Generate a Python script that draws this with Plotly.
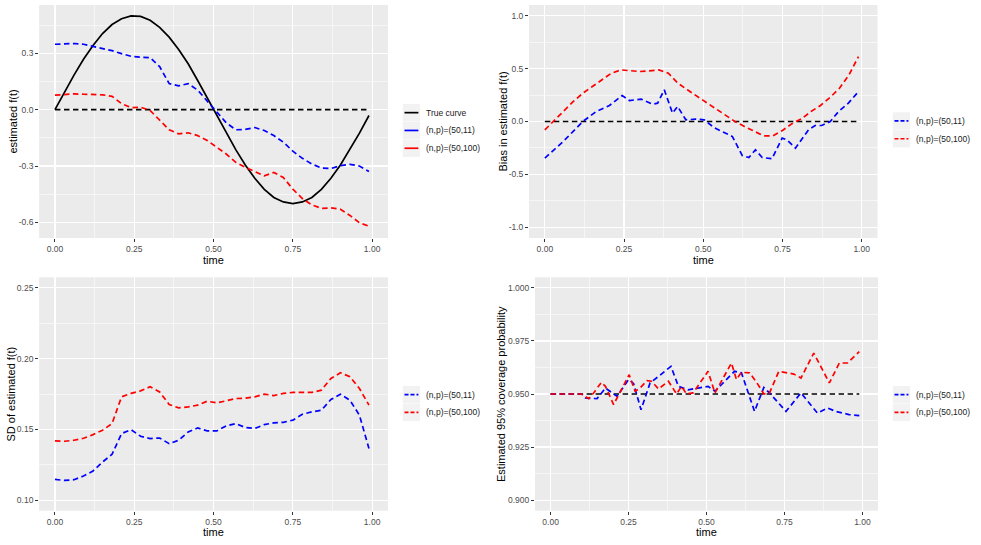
import plotly.graph_objects as go

# ---------------- data ----------------
time = [0.00, 0.03, 0.06, 0.09, 0.12, 0.15, 0.18, 0.21, 0.24, 0.27, 0.30, 0.33,
        0.36, 0.39, 0.42, 0.45, 0.48, 0.51, 0.54, 0.57, 0.60, 0.63, 0.66, 0.69,
        0.72, 0.75, 0.78, 0.81, 0.84, 0.87, 0.90, 0.93, 0.96, 0.99]

true_curve = [0.000, 0.094, 0.184, 0.268, 0.342, 0.405, 0.453, 0.484, 0.499, 0.496,
              0.476, 0.438, 0.386, 0.320, 0.244, 0.155, 0.063, -0.031, -0.125, -0.213,
              -0.294, -0.365, -0.424, -0.467, -0.491, -0.500, -0.491, -0.467, -0.424,
              -0.365, -0.294, -0.213, -0.125, -0.031]

est_50_11 = [0.348, 0.352, 0.352, 0.348, 0.338, 0.327, 0.314, 0.298, 0.284, 0.279,
             0.277, 0.229, 0.139, 0.127, 0.138, 0.104, 0.045, -0.009, -0.070, -0.107,
             -0.105, -0.095, -0.111, -0.138, -0.173, -0.221, -0.259, -0.289, -0.311,
             -0.313, -0.298, -0.291, -0.300, -0.329]

est_50_100 = [0.077, 0.082, 0.084, 0.082, 0.080, 0.079, 0.071, 0.032, 0.011, 0.013,
              -0.004, -0.057, -0.107, -0.129, -0.123, -0.138, -0.164, -0.200, -0.236,
              -0.280, -0.307, -0.329, -0.352, -0.334, -0.361, -0.423, -0.473, -0.507,
              -0.525, -0.523, -0.530, -0.563, -0.602, -0.620]

bias_time_50_11 = [0.000, 0.058, 0.120, 0.162, 0.204, 0.244, 0.267, 0.304, 0.340, 0.356,
                   0.377, 0.403, 0.419, 0.445, 0.476, 0.503, 0.534, 0.571, 0.592, 0.623,
                   0.644, 0.665, 0.686, 0.717, 0.749, 0.764, 0.791, 0.832, 0.853, 0.874,
                   0.901, 0.927, 0.958, 0.990]
bias_50_11 = [-0.346, -0.189, 0.000, 0.094, 0.151, 0.245, 0.198, 0.211, 0.164, 0.173,
              0.299, 0.079, 0.142, 0.016, 0.022, 0.016, -0.057, -0.110, -0.142, -0.321,
              -0.340, -0.267, -0.340, -0.352, -0.157, -0.173, -0.252, -0.079, -0.038,
              -0.038, 0.000, 0.094, 0.173, 0.283]

bias_50_100 = [-0.079, 0.006, 0.100, 0.189, 0.267, 0.330, 0.393, 0.456, 0.487, 0.481,
               0.472, 0.478, 0.487, 0.456, 0.362, 0.299, 0.236, 0.179, 0.120, 0.063,
               0.000, -0.047, -0.094, -0.135, -0.135, -0.085, -0.020, 0.025, 0.094,
               0.151, 0.226, 0.314, 0.440, 0.613]

sd_50_11 = [0.1146, 0.1139, 0.1144, 0.1170, 0.1206, 0.1269, 0.1324, 0.1470, 0.1498,
            0.1451, 0.1435, 0.1439, 0.1399, 0.1423, 0.1482, 0.1510, 0.1489, 0.1489,
            0.1524, 0.1541, 0.1513, 0.1506, 0.1534, 0.1546, 0.1550, 0.1565, 0.1607,
            0.1624, 0.1635, 0.1711, 0.1749, 0.1706, 0.1600, 0.1364]

sd_50_100 = [0.1418, 0.1416, 0.1423, 0.1437, 0.1463, 0.1494, 0.1541, 0.1730, 0.1754,
             0.1772, 0.1801, 0.1765, 0.1676, 0.1652, 0.1659, 0.1671, 0.1699, 0.1687,
             0.1702, 0.1718, 0.1720, 0.1730, 0.1749, 0.1739, 0.1754, 0.1761, 0.1761,
             0.1761, 0.1777, 0.1860, 0.1900, 0.1872, 0.1789, 0.1671]

cov_time_50_11 = [0.000, 0.100, 0.112, 0.149, 0.176, 0.191, 0.213, 0.250, 0.266, 0.290,
                  0.319, 0.346, 0.386, 0.410, 0.441, 0.473, 0.505, 0.527, 0.564, 0.590,
                  0.612, 0.654, 0.684, 0.702, 0.755, 0.803, 0.856, 0.888, 0.915, 0.957,
                  0.990]
cov_50_11 = [0.9500, 0.9500, 0.9481, 0.9478, 0.9528, 0.9513, 0.9489, 0.9568, 0.9550,
             0.9426, 0.9552, 0.9583, 0.9630, 0.9536, 0.9520, 0.9528, 0.9536, 0.9513,
             0.9568, 0.9607, 0.9600, 0.9418, 0.9531, 0.9505, 0.9418, 0.9505, 0.9410,
             0.9434, 0.9418, 0.9403, 0.9398]

cov_time_50_100 = [0.000, 0.100, 0.122, 0.138, 0.163, 0.176, 0.202, 0.218, 0.252, 0.271,
                   0.287, 0.309, 0.324, 0.346, 0.378, 0.404, 0.420, 0.436, 0.457, 0.505,
                   0.527, 0.580, 0.596, 0.612, 0.638, 0.662, 0.684, 0.702, 0.732, 0.780,
                   0.803, 0.844, 0.894, 0.926, 0.952, 0.990]
cov_50_100 = [0.9500, 0.9500, 0.9478, 0.9505, 0.9555, 0.9536, 0.9450, 0.9497, 0.9591,
              0.9513, 0.9528, 0.9563, 0.9560, 0.9524, 0.9560, 0.9500, 0.9536, 0.9500,
              0.9505, 0.9607, 0.9505, 0.9646, 0.9568, 0.9602, 0.9600, 0.9552, 0.9500,
              0.9505, 0.9607, 0.9594, 0.9575, 0.9693, 0.9552, 0.9646, 0.9646, 0.9700]

ref_time = [0.00, 0.99]
zero_ref = [0.0, 0.0]
coverage_ref = [0.95, 0.95]

x_ticks = [0, 0.25, 0.5, 0.75, 1.0]
x_ticklabels = ["0.00", "0.25", "0.50", "0.75", "1.00"]
x_minor = [0.125, 0.375, 0.625, 0.875]

y1_ticks = [-0.6, -0.3, 0.0, 0.3]
y1_labels = ["-0.6", "-0.3", "0.0", "0.3"]
y1_minor = [-0.45, -0.15, 0.15, 0.45]
y2_ticks = [-1.0, -0.5, 0.0, 0.5, 1.0]
y2_labels = ["-1.0", "-0.5", "0.0", "0.5", "1.0"]
y2_minor = [-0.75, -0.25, 0.25, 0.75]
y3_ticks = [0.10, 0.15, 0.20, 0.25]
y3_labels = ["0.10", "0.15", "0.20", "0.25"]
y3_minor = [0.125, 0.175, 0.225]
y4_ticks = [0.900, 0.925, 0.950, 0.975, 1.000]
y4_labels = ["0.900", "0.925", "0.950", "0.975", "1.000"]
y4_minor = [0.9125, 0.9375, 0.9625, 0.9875]

lab_true = "True curve"
lab_11 = "(n,p)=(50,11)"
lab_100 = "(n,p)=(50,100)"

# ---------------- style ----------------
W, H = 981, 545
FONT = "Liberation Sans, Arial, sans-serif"
BLUE, RED, BLACK = "#0000FF", "#FF0000", "#000000"
LW = 1.7
DASH = "5.5px,3.5px"

fig = go.Figure()


def add_line(x, y, color, dash, n):
    fig.add_trace(go.Scatter(
        x=x, y=y, mode="lines", showlegend=False, hoverinfo="skip",
        line=dict(color=color, width=LW, dash=dash),
        xaxis="x" if n == 1 else f"x{n}", yaxis="y" if n == 1 else f"y{n}"))


# panel 1
add_line(ref_time, zero_ref, BLACK, DASH, 1)
add_line(time, true_curve, BLACK, "solid", 1)
add_line(time, est_50_11, BLUE, DASH, 1)
add_line(time, est_50_100, RED, DASH, 1)
# panel 2
add_line(ref_time, zero_ref, BLACK, DASH, 2)
add_line(bias_time_50_11, bias_50_11, BLUE, DASH, 2)
add_line(time, bias_50_100, RED, DASH, 2)
# panel 3
add_line(time, sd_50_11, BLUE, DASH, 3)
add_line(time, sd_50_100, RED, DASH, 3)
# panel 4
add_line(ref_time, coverage_ref, BLACK, DASH, 4)
add_line(cov_time_50_11, cov_50_11, BLUE, DASH, 4)
add_line(cov_time_50_100, cov_50_100, RED, DASH, 4)


def px_x(p):
    return p / W


def px_y(p):
    return 1 - p / H


# panel pixel boxes (left, right, top, bottom)
boxes = {
    1: (39.1, 388.0, 5.0, 238.0),
    2: (529.0, 877.5, 5.0, 238.0),
    3: (39.1, 388.0, 277.3, 510.7),
    4: (535.0, 878.0, 277.3, 510.7),
}
yranges = {1: [-0.683, 0.557], 2: [-1.1, 1.1], 3: [0.0925, 0.2575], 4: [0.895, 1.005]}
yt = {1: (y1_ticks, y1_labels, y1_minor), 2: (y2_ticks, y2_labels, y2_minor),
      3: (y3_ticks, y3_labels, y3_minor), 4: (y4_ticks, y4_labels, y4_minor)}

common = dict(ticks="outside", ticklen=3, tickwidth=1, tickcolor="#333333",
              showline=False, zeroline=False, showgrid=True, gridcolor="#FFFFFF",
              gridwidth=1.1, tickfont=dict(family=FONT, size=8.5, color="#4D4D4D"))

layout_axes = {}
for n, (l, r, t, b) in boxes.items():
    xa = "xaxis" if n == 1 else f"xaxis{n}"
    ya = "yaxis" if n == 1 else f"yaxis{n}"
    layout_axes[xa] = dict(
        domain=[px_x(l), px_x(r)], range=[-0.05, 1.05], anchor="y" if n == 1 else f"y{n}",
        tickmode="array", tickvals=x_ticks, ticktext=x_ticklabels,
        minor=dict(tickmode="array", tickvals=x_minor, showgrid=True,
                   gridcolor="#FFFFFF", gridwidth=0.55, ticks=""),
        **common)
    tv, tl, mn = yt[n]
    layout_axes[ya] = dict(
        domain=[px_y(b), px_y(t)], range=yranges[n], anchor="x" if n == 1 else f"x{n}",
        tickmode="array", tickvals=tv, ticktext=tl,
        minor=dict(tickmode="array", tickvals=mn, showgrid=True,
                   gridcolor="#FFFFFF", gridwidth=0.55, ticks=""),
        **common)

annotations = []
shapes = []

# axis titles
ytitles = {1: ("estimated f(t)", 12), 2: ("Bias in estimated f(t)", 502),
           3: ("SD of estimated f(t)", 10.5), 4: ("Estimated 95% coverage probability", 501)}
for n, (l, r, t, b) in boxes.items():
    annotations.append(dict(text="time", x=px_x((l + r) / 2), y=px_y(b + 21.5),
                            xref="paper", yref="paper", showarrow=False,
                            xanchor="center", yanchor="middle",
                            font=dict(family=FONT, size=11, color="#000000")))
    txt, xp = ytitles[n]
    annotations.append(dict(text=txt, x=px_x(xp), y=px_y((t + b) / 2), textangle=-90,
                            xref="paper", yref="paper", showarrow=False,
                            xanchor="center", yanchor="middle",
                            font=dict(family=FONT, size=11, color="#000000")))

# legends (ggplot-like keys)
KEY = 17.3


def legend(key_left, top, items):
    for i, (label, color, dash) in enumerate(items):
        y0 = top + i * (KEY + 0.5)
        shapes.append(dict(type="rect", xref="paper", yref="paper",
                           x0=px_x(key_left), x1=px_x(key_left + KEY),
                           y0=px_y(y0 + KEY), y1=px_y(y0),
                           fillcolor="#F2F2F2", line=dict(width=0), layer="below"))
        yc = y0 + KEY / 2
        shapes.append(dict(type="line", xref="paper", yref="paper",
                           x0=px_x(key_left + 1.7), x1=px_x(key_left + KEY - 1.7),
                           y0=px_y(yc), y1=px_y(yc),
                           line=dict(color=color, width=LW, dash=dash)))
        annotations.append(dict(text=label, x=px_x(key_left + KEY + 4.2), y=px_y(yc),
                                xref="paper", yref="paper", showarrow=False,
                                xanchor="left", yanchor="middle",
                                font=dict(family=FONT, size=8.5, color="#1A1A1A")))


legend(402.8, 104.0, [(lab_true, BLACK, "solid"), (lab_11, BLUE, "solid"),
                      (lab_100, RED, "solid")])
legend(892.8, 112.3, [(lab_11, BLUE, "4px,2px"), (lab_100, RED, "4px,2px")])
legend(402.8, 386.0, [(lab_11, BLUE, "4px,2px"), (lab_100, RED, "4px,2px")])
legend(892.8, 386.0, [(lab_11, BLUE, "4px,2px"), (lab_100, RED, "4px,2px")])

fig.update_layout(
    width=W, height=H, margin=dict(l=0, r=0, t=0, b=0),
    paper_bgcolor="#FFFFFF", plot_bgcolor="#EBEBEB",
    font=dict(family=FONT), showlegend=False,
    annotations=annotations, shapes=shapes, **layout_axes)

fig.write_html("out.html",
               config={"displayModeBar": False, "staticPlot": True},
               post_script="document.body.style.margin='0px';"
                           "document.body.style.overflow='hidden';")
